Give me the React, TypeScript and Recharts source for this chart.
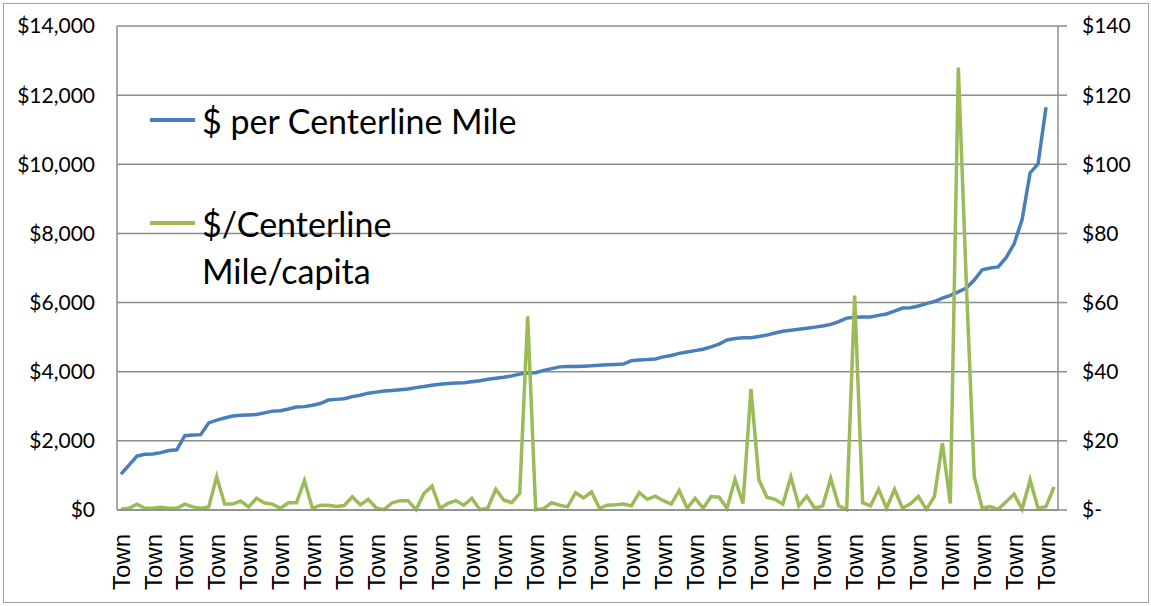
import React from "react";
import {
  LineChart,
  Line,
  XAxis,
  YAxis,
  CartesianGrid,
  Legend,
} from "recharts";

// $ per centerline mile, sorted ascending (last town has no value)
const perMile: (number | null)[] = [
  1040, 1300, 1560, 1610, 1620, 1660, 1720, 1740, 2150, 2170,
  2180, 2520, 2600, 2660, 2720, 2740, 2750, 2760, 2810, 2860,
  2870, 2920, 2980, 2990, 3030, 3080, 3180, 3200, 3220, 3280,
  3320, 3380, 3410, 3440, 3460, 3480, 3500, 3540, 3570, 3610,
  3640, 3660, 3670, 3680, 3710, 3740, 3780, 3810, 3840, 3880,
  3930, 3960, 3970, 4040, 4090, 4140, 4150, 4150, 4160, 4170,
  4190, 4200, 4210, 4220, 4320, 4340, 4350, 4370, 4430, 4470,
  4530, 4570, 4610, 4650, 4720, 4800, 4920, 4960, 4980, 4985,
  5020, 5060, 5120, 5170, 5200, 5230, 5260, 5290, 5320, 5370,
  5450, 5550, 5575, 5580, 5585, 5630, 5670, 5750, 5840, 5850,
  5900, 5970, 6030, 6130, 6210, 6310, 6420, 6650, 6950, 7000,
  7030, 7300, 7700, 8400, 9750, 10010, 11650, null,
];

// $/centerline mile/capita
const perCapita: number[] = [
  0.2, 0.5, 1.7, 0.5, 0.5, 0.8, 0.5, 0.5, 1.7, 0.9,
  0.5, 0.9, 9.6, 1.7, 1.7, 2.6, 0.9, 3.4, 2.0, 1.7,
  0.5, 2.1, 2.1, 8.5, 0.5, 1.4, 1.4, 1.0, 1.3, 3.8,
  1.5, 3.1, 0.6, 0.1, 2.1, 2.7, 2.7, 0.1, 4.8, 6.9,
  0.5, 1.9, 2.7, 1.4, 3.4, 0.1, 0.6, 6.0, 2.9, 2.1,
  4.8, 56, 0.1, 0.4, 2.1, 1.4, 0.9, 5.0, 3.5, 5.2,
  0.5, 1.4, 1.5, 1.7, 1.2, 5.0, 3.1, 4.0, 2.7, 1.7,
  5.6, 0.5, 3.4, 0.5, 3.9, 3.7, 0.5, 8.9, 1.9, 35,
  8.7, 3.7, 3.1, 1.7, 9.6, 1.2, 4.0, 0.5, 1.2, 9.2,
  1.2, 0.1, 62, 2.1, 1.2, 6.0, 0.5, 6.0, 0.5, 1.8,
  3.9, 0.2, 3.9, 19.3, 1.9, 128, 66, 9.6, 0.5, 1.0,
  0.2, 2.4, 4.6, 0.2, 8.7, 0.5, 1.0, 6.7,
];

const towns: string[] = perCapita.map(() => "Town");

const leftTicks = [0, 2000, 4000, 6000, 8000, 10000, 12000, 14000];
const rightTicks = [0, 20, 40, 60, 80, 100, 120, 140];

const BLUE = "#4A7EBB";
const GREEN = "#9BBB59";
const GRID = "#8c8c8c";

const data = towns.map((name, i) => ({
  name,
  perMile: perMile[i],
  perCapita: perCapita[i],
}));

const legendRows = [
  { color: BLUE, lines: ["$ per Centerline Mile"], top: 0 },
  { color: GREEN, lines: ["$/Centerline", "Mile/capita"], top: 103 },
];

function LegendBox() {
  return (
    <div
      style={{
        position: "relative",
        width: 420,
        height: 200,
        fontFamily: "Lato, sans-serif",
        fontSize: 34,
        color: "#000",
      }}
    >
      {legendRows.map((r, i) => (
        <div key={i} style={{ position: "absolute", left: 0, top: r.top }}>
          <div
            style={{
              position: "absolute",
              left: 0,
              top: 21,
              width: 45,
              height: 4,
              background: r.color,
            }}
          />
          <div
            style={{
              position: "absolute",
              left: 52,
              top: 0,
              lineHeight: "47px",
              whiteSpace: "nowrap",
            }}
          >
            {r.lines.map((l) => (
              <div key={l}>{l}</div>
            ))}
          </div>
        </div>
      ))}
    </div>
  );
}

function TownTick(props: any) {
  const { x, y, payload } = props;
  return (
    <text
      x={x}
      y={y}
      dy="0.36em"
      transform={`rotate(-90, ${x}, ${y})`}
      textAnchor="end"
      fontFamily="'Liberation Sans', Arial, sans-serif"
      fontSize={24}
      fill="#000"
    >
      {payload.value}
    </text>
  );
}

const tickFont = { fontFamily: "Lato, sans-serif", fontSize: 21, fill: "#000" };

export default function App() {
  return (
    <div style={{ position: "relative", width: 1151, height: 606, background: "#fff" }}>
      <style>{`body{margin:0}`}</style>
      <div
        style={{
          position: "absolute",
          left: 3,
          top: 3,
          width: 1144,
          height: 598,
          border: "1px solid #a0a0a0",
        }}
      />
      <LineChart
        width={1151}
        height={606}
        data={data}
        margin={{ top: 26, right: 0, bottom: 0, left: 0 }}
      >
        <CartesianGrid yAxisId="left" vertical={false} stroke={GRID} strokeWidth={1.5} />
        <XAxis
          dataKey="name"
          interval={3}
          height={96}
          padding={{ left: 4, right: 4 }}
          tickLine={false}
          tickSize={0}
          tickMargin={24}
          axisLine={{ stroke: GRID, strokeWidth: 1.5 }}
          tick={<TownTick />}
        />
        <YAxis
          yAxisId="left"
          width={117}
          domain={[0, 14000]}
          ticks={leftTicks}
          tickFormatter={(v: number) => `$${v.toLocaleString("en-US")}`}
          tickLine={false}
          tickSize={0}
          tickMargin={22}
          axisLine={{ stroke: GRID, strokeWidth: 1.5 }}
          tick={tickFont}
        />
        <YAxis
          yAxisId="right"
          orientation="right"
          width={93}
          domain={[0, 140]}
          ticks={rightTicks}
          tickFormatter={(v: number) => (v === 0 ? "$-" : `$${v}`)}
          tickSize={9}
          tickMargin={15}
          tickLine={{ stroke: GRID, strokeWidth: 1.5 }}
          axisLine={{ stroke: GRID, strokeWidth: 1.5 }}
          tick={tickFont}
        />
        <Legend
          layout="vertical"
          align="center"
          verticalAlign="middle"
          wrapperStyle={{ left: 150, top: 97, width: 420 }}
          content={() => <LegendBox />}
        />
        <Line
          yAxisId="left"
          type="linear"
          dataKey="perMile"
          name="$ per Centerline Mile"
          stroke={BLUE}
          strokeWidth={3.5}
          dot={false}
          isAnimationActive={false}
        />
        <Line
          yAxisId="right"
          type="linear"
          dataKey="perCapita"
          name="$/Centerline Mile/capita"
          stroke={GREEN}
          strokeWidth={3.5}
          dot={false}
          isAnimationActive={false}
        />
      </LineChart>
    </div>
  );
}
